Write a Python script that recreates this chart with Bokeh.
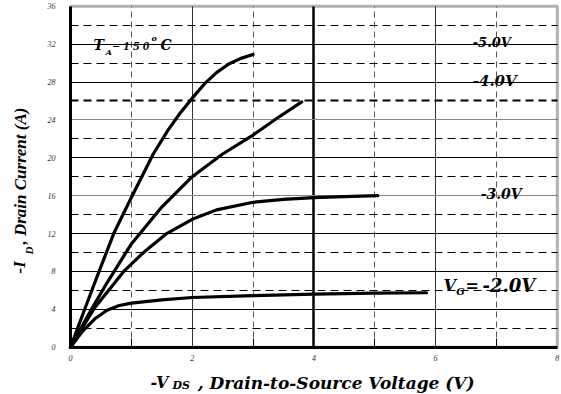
import math
from bokeh.plotting import figure
from bokeh.models import (Range1d, FixedTicker, Grid, Label, LinearAxis,
                          BoxAnnotation)
from bokeh.embed import file_html
from bokeh.resources import INLINE

# ---- data ----
vds_g5 = [0, 0.25, 0.47, 0.71, 1.0, 1.36, 1.6, 1.8, 2.0, 2.2, 2.4, 2.6, 2.8, 3.0]
id_g5 = [0, 4.3, 8.0, 12.0, 15.8, 20.4, 22.9, 24.7, 26.3, 27.8, 29.0, 29.9, 30.5, 30.9]

vds_g4 = [0, 0.3, 0.6, 1.0, 1.5, 2.0, 2.5, 3.0, 3.4, 3.8]
id_g4 = [0, 3.5, 6.8, 10.9, 14.8, 18.0, 20.4, 22.4, 24.2, 25.9]

vds_g3 = [0, 0.4, 0.875, 1.2, 1.58, 2.0, 2.4, 3.0, 3.5, 4.0, 4.5, 5.05]
id_g3 = [0, 4.2, 8.0, 10.0, 12.0, 13.5, 14.5, 15.3, 15.6, 15.8, 15.9, 16.0]

vds_g2 = [0, 0.2, 0.4, 0.6, 0.8, 1.0, 1.5, 2.0, 3.0, 4.0, 5.0, 5.85]
id_g2 = [0, 1.7, 3.0, 3.9, 4.4, 4.65, 5.0, 5.25, 5.45, 5.6, 5.7, 5.75]

x_ticks = [0, 2, 4, 6, 8]
x_minor = [1, 3, 5, 7]
y_ticks = [0, 4, 8, 12, 16, 20, 24, 28, 32, 36]
y_minor = [2, 6, 10, 14, 18, 22, 26, 30, 34]

X0, X1 = 0, 8
Y0, Y1 = 0, 36

TITLE_FONT = "DejaVu Serif"
VT_FONT = "Liberation Serif"

# frame covers the whole canvas; data box 0..8 x 0..36 sits inside it
p = figure(width=561, height=394, output_backend="svg", toolbar_location=None,
           x_range=Range1d(-1.1504, 8.069), y_range=Range1d(-4.995, 36.61),
           x_axis_location=None, y_axis_location=None, min_border=0)
p.background_fill_color = "white"
p.border_fill_color = "white"
p.outline_line_color = None
p.grid.visible = False

# grids
p.add_layout(Grid(dimension=0, ticker=FixedTicker(ticks=[2, 6], minor_ticks=x_minor),
                  cross_bounds=(Y0, Y1),
                  grid_line_color="#333333", grid_line_width=1,
                  minor_grid_line_color="#555555", minor_grid_line_width=1,
                  minor_grid_line_dash="6 4"))
p.add_layout(Grid(dimension=0, ticker=FixedTicker(ticks=[4]), cross_bounds=(Y0, Y1),
                  grid_line_color="black", grid_line_width=2.5))
p.add_layout(Grid(dimension=1, ticker=FixedTicker(ticks=[4, 8, 12, 20, 28, 32],
                                                  minor_ticks=[2, 6, 10, 14, 18, 22, 30, 34]),
                  cross_bounds=(X0, X1),
                  grid_line_color="black", grid_line_width=1,
                  minor_grid_line_color="black", minor_grid_line_width=1,
                  minor_grid_line_dash="8 5"))
p.add_layout(Grid(dimension=1, ticker=FixedTicker(ticks=[16, 24], minor_ticks=[26]),
                  cross_bounds=(X0, X1),
                  grid_line_color="#888888", grid_line_width=1,
                  minor_grid_line_color="black", minor_grid_line_width=2.2,
                  minor_grid_line_dash="8 5"))

# axes
xax = LinearAxis(fixed_location=Y0, bounds=(X0, X1),
                 ticker=FixedTicker(ticks=x_ticks, minor_ticks=x_minor))
yax = LinearAxis(fixed_location=X0, bounds=(Y0, Y1), ticker=FixedTicker(ticks=y_ticks))
for ax in (xax, yax):
    ax.axis_line_width = 3
    ax.axis_line_color = "black"
    ax.major_tick_in = 0
    ax.major_tick_out = 0
    ax.major_label_text_font = "Liberation Serif"
    ax.major_label_text_font_style = "italic"
    ax.major_label_text_font_size = "8px"
    ax.major_label_text_color = "#333333"
xax.minor_tick_in = 9
xax.minor_tick_out = 0
xax.minor_tick_line_color = "black"
xax.major_label_standoff = 8
yax.minor_tick_line_color = None
yax.major_label_standoff = 15
p.add_layout(xax, "below")
p.add_layout(yax, "left")

p.add_layout(BoxAnnotation(left=X0, right=X1, bottom=Y0, top=Y1, fill_alpha=0,
                           fill_color=None, line_color="black", line_width=3))

# curves
for xs, ys in ((vds_g5, id_g5), (vds_g4, id_g4), (vds_g3, id_g3), (vds_g2, id_g2)):
    p.line(xs, ys, line_color="black", line_width=3.2, line_join="round", line_cap="round")


def lab(x, y, text, size, font=TITLE_FONT, angle=0, baseline="middle", align="left"):
    p.add_layout(Label(x=x, y=y, text=text, text_font=font,
                       text_font_style="bold italic", text_font_size=f"{size}px",
                       text_color="black", angle=angle, text_align=align,
                       text_baseline=baseline))

# in-plot annotations
lab(0.378, 31.86, "T", 14)
lab(0.58, 31.2, "A", 8)
lab(0.69, 31.86, "= 1 5 0", 13, font=VT_FONT)
lab(1.33, 32.6, "o", 8)
lab(1.48, 31.86, "C", 14)

lab(6.61, 32.2, "-5.0V", 13)
lab(6.61, 28.06, "-4.0V", 15)
lab(6.74, 16.2, "-3.0V", 14)
lab(6.13, 6.52, "V", 16)
lab(6.34, 5.9, "G", 10)
lab(6.49, 6.52, "=", 16)
lab(6.77, 6.52, "-2.0V", 18)

# axis titles
lab(1.315, -3.73, "-V", 16, baseline="alphabetic")
lab(1.676, -4.04, "DS", 11, baseline="alphabetic")
lab(2.09, -3.73, ", Drain-to-Source Voltage (V)", 17, baseline="alphabetic")

lab(-0.838, 7.78, "-I", 17, font=VT_FONT, angle=math.pi / 2)
lab(-0.69, 9.79, "D", 11, font=VT_FONT, angle=math.pi / 2)
lab(-0.82, 10.84, ", Drain Current (A)", 17, font=VT_FONT, angle=math.pi / 2)

open("out.html", "w").write(file_html(p, INLINE))
